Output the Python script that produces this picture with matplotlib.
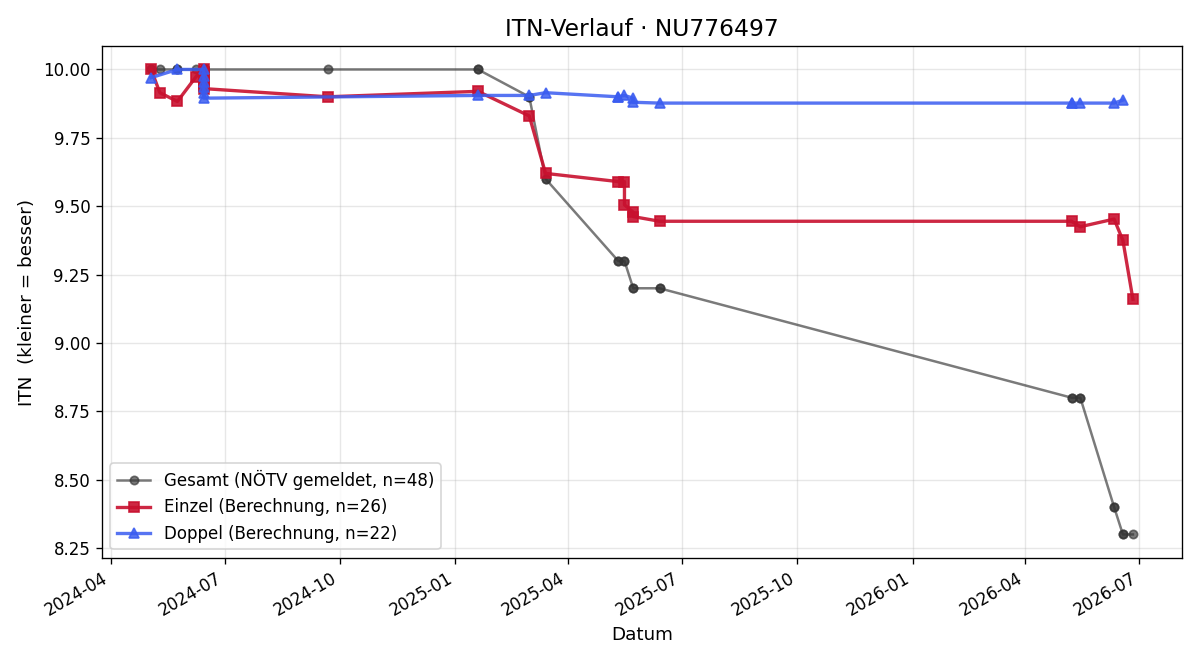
import matplotlib

matplotlib.use("Agg")
import matplotlib.dates as mdates
import matplotlib.pyplot as plt
import numpy as np

# Gesamt (NÖTV gemeldet) - one entry per match, several on the same day
gesamt_dates = (
    ["2024-05-03"] * 2 + ["2024-05-10"] + ["2024-05-24"] * 2 + ["2024-06-08"]
    + ["2024-06-14"] * 18 + ["2024-09-21"] + ["2025-01-19"] * 2
    + ["2025-03-01"] * 2 + ["2025-03-14"] * 2 + ["2025-05-11"] * 2
    + ["2025-05-16"] * 2 + ["2025-05-23"] * 2 + ["2025-06-13"] * 2
    + ["2026-05-08"] * 2 + ["2026-05-15"] * 2 + ["2026-06-11"] * 2
    + ["2026-06-18"] * 2 + ["2026-06-26"]
)
gesamt_itn = (
    [10.0] * 2 + [10.0] + [10.0] * 2 + [10.0]
    + [10.0] * 18 + [10.0] + [10.0] * 2
    + [9.9] * 2 + [9.6] * 2 + [9.3] * 2
    + [9.3] * 2 + [9.2] * 2 + [9.2] * 2
    + [8.8] * 2 + [8.8] * 2 + [8.4] * 2
    + [8.3] * 2 + [8.3]
)

einzel_dates = [
    "2024-05-03", "2024-05-10", "2024-05-24", "2024-06-08",
    "2024-06-14", "2024-06-14", "2024-06-14", "2024-06-14", "2024-06-14", "2024-06-14", "2024-06-14",
    "2024-09-21", "2025-01-19", "2025-03-01", "2025-03-14",
    "2025-05-11", "2025-05-16", "2025-05-16", "2025-05-23", "2025-05-23", "2025-06-13",
    "2026-05-08", "2026-05-15", "2026-06-11", "2026-06-18", "2026-06-26",
]
einzel_itn = [
    10.00, 9.915, 9.883, 9.974,
    10.00, 9.99, 9.975, 9.96, 9.95, 9.94, 9.93,
    9.90, 9.92, 9.83, 9.62,
    9.59, 9.59, 9.505, 9.478, 9.462, 9.445,
    9.445, 9.425, 9.453, 9.375, 9.16,
]

doppel_dates = [
    "2024-05-03", "2024-05-24",
    "2024-06-14", "2024-06-14", "2024-06-14", "2024-06-14", "2024-06-14", "2024-06-14",
    "2025-01-19", "2025-03-01", "2025-03-14",
    "2025-05-11", "2025-05-11", "2025-05-16", "2025-05-23", "2025-05-23", "2025-06-13",
    "2026-05-08", "2026-05-08", "2026-05-15", "2026-06-11", "2026-06-18",
]
doppel_itn = [
    9.97, 10.00,
    10.00, 9.975, 9.955, 9.935, 9.915, 9.895,
    9.905, 9.905, 9.915,
    9.90, 9.90, 9.905, 9.895, 9.88, 9.877,
    9.877, 9.877, 9.877, 9.877, 9.888,
]


def to_dt(dates):
    return np.array(dates, dtype="datetime64[D]")


fig, ax = plt.subplots(figsize=(10, 5.5), dpi=120)

ax.plot(to_dt(gesamt_dates), gesamt_itn, color="#333333", alpha=0.65, marker="o",
        markersize=5, linewidth=1.5, label="Gesamt (NÖTV gemeldet, n=48)")
ax.plot(to_dt(einzel_dates), einzel_itn, color="#c8102e", alpha=0.9, marker="s",
        markersize=6.5, linewidth=2, label="Einzel (Berechnung, n=26)")
ax.plot(to_dt(doppel_dates), doppel_itn, color="#3a5cf0", alpha=0.85, marker="^",
        markersize=6.5, linewidth=2, label="Doppel (Berechnung, n=22)")

ax.set_title("ITN-Verlauf · NU776497", fontsize=14)
ax.set_xlabel("Datum", fontsize=11)
ax.set_ylabel("ITN  (kleiner = besser)", fontsize=11)
ax.xaxis.set_major_locator(mdates.MonthLocator(bymonth=[1, 4, 7, 10]))
ax.xaxis.set_major_formatter(mdates.DateFormatter("%Y-%m"))
ax.yaxis.set_major_formatter(matplotlib.ticker.FormatStrFormatter("%.2f"))
ax.grid(True, alpha=0.3)
ax.legend(loc="lower left")
fig.autofmt_xdate()

fig.subplots_adjust(left=0.085, right=0.985, top=0.93, bottom=0.155)
fig.savefig("out.png")
